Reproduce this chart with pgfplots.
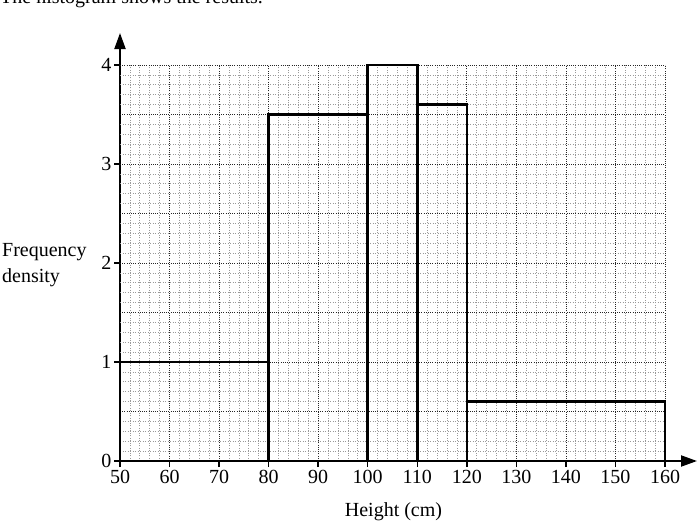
\documentclass[border=0pt]{standalone}
\usepackage{fontspec}
\setmainfont{Liberation Serif}
\usepackage{pgfplots}
\pgfplotsset{compat=1.18}
\usetikzlibrary{arrows.meta}

\tikzset{
  smallsq/.style={black!40, line width=0.7pt, dash pattern=on 1pt off 1.5pt},
  bigsq/.style={black!85, line width=0.8pt, dash pattern=on 1pt off 1.2pt},
}

\begin{document}
\fontsize{20}{26}\selectfont
\begin{tikzpicture}
\begin{axis}[
  at={(120pt,61pt)}, anchor=south west,
  x=4.9545pt, y=99pt,
  xmin=50, xmax=166.46, ymin=0, ymax=4.323,
  axis lines=left,
  axis line style={line width=2pt, -{Triangle[length=16pt,width=11pt]}},
  xtick={50,60,...,160}, ytick={0,1,2,3,4},
  tick align=outside, major tick length=6pt,
  tick style={line width=1.4pt, black},
  /pgf/number format/assume math mode=true,
  ticklabel style={font=\fontsize{20}{24}\selectfont},
  yticklabel style={inner sep=2.5pt},
  xticklabel style={inner sep=3pt},
  xlabel={Height (cm)},
  xlabel style={at={(axis description cs:0.474,-0.1308)}, anchor=base},
  ylabel={Frequency\\density},
  ylabel style={rotate=-90, align=left, inner sep=0pt, at={(axis description cs:-0.2045,0.458)}, anchor=west},
  clip=false,
]
% graph paper
\pgfplotsinvokeforeach{52,54,56,58,62,64,66,68,72,74,76,78,82,84,86,88,92,94,96,98,102,104,106,108,112,114,116,118,122,124,126,128,132,134,136,138,142,144,146,148,152,154,156,158}{
  \draw[smallsq] (axis cs:#1,0) -- (axis cs:#1,4);
}
\pgfplotsinvokeforeach{0.1,0.2,0.3,0.4,0.6,0.7,0.8,0.9,1.1,1.2,1.3,1.4,1.6,1.7,1.8,1.9,2.1,2.2,2.3,2.4,2.6,2.7,2.8,2.9,3.1,3.2,3.3,3.4,3.6,3.7,3.8,3.9}{
  \draw[smallsq] (axis cs:50,#1) -- (axis cs:160,#1);
}
\pgfplotsinvokeforeach{60,70,80,90,100,110,120,130,140,150,160}{
  \draw[bigsq] (axis cs:#1,0) -- (axis cs:#1,4);
}
\pgfplotsinvokeforeach{0.5,1,1.5,2,2.5,3,3.5,4}{
  \draw[bigsq] (axis cs:50,#1) -- (axis cs:160,#1);
}

\addplot[ybar interval, draw=black, fill=none, line width=2.5pt]
  coordinates {(50,1) (80,3.5) (100,4) (110,3.6) (120,0.6) (160,0.6)};
\end{axis}
\node[anchor=base west, inner sep=0pt] at (0pt,518pt) {The histogram shows the results.};
\pgfresetboundingbox
\useasboundingbox (0,0) rectangle (700pt,522pt);
\end{tikzpicture}
\end{document}
